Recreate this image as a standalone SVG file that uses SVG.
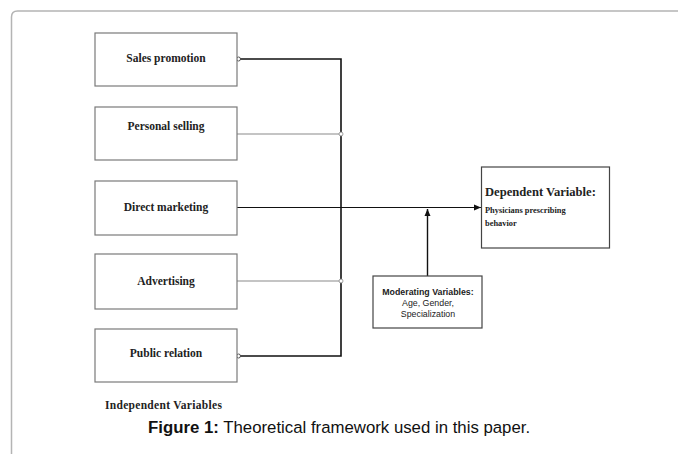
<svg xmlns="http://www.w3.org/2000/svg" width="678" height="454" viewBox="0 0 678 454">
<style>
.frame{fill:none;stroke:#b4b4b4;stroke-width:1.5}
.ibox{fill:#fff;stroke:#7a7a7a;stroke-width:1.2}
.dbox{fill:#fff;stroke:#444;stroke-width:1.2}
.lbl{font-family:"Liberation Serif","Times New Roman",serif;font-weight:bold;font-size:11.5px;fill:#222;text-anchor:middle}
.sans{font-family:"Liberation Sans",Arial,sans-serif;font-size:8.8px;fill:#222;text-anchor:middle}
.thick{stroke:#111;stroke-width:1.6;fill:none}
.thin{stroke:#111;stroke-width:1;fill:none}
.gray{stroke:#8a8a8a;stroke-width:1.2;fill:none}
.dot{fill:#fff;stroke:#333;stroke-width:0.8}
.gdot{fill:#fff;stroke:#888;stroke-width:0.8}
</style>
<defs>
<marker id="ah" markerWidth="8" markerHeight="8" refX="7" refY="4" orient="auto" markerUnits="userSpaceOnUse">
<path d="M0,1 L7,4 L0,7 Z" fill="#111"/>
</marker>
</defs>
<rect width="678" height="454" fill="#fff"/>
<path class="frame" d="M11.5,454 L11.5,17 Q11.5,11 17.5,11 L678,11"/>

<g id="connectors">
<path class="thick" d="M237,59 L341,59 L341,356 L237,356"/>
<path class="gray" d="M237,134 L341,134"/>
<path class="gray" d="M237,281 L341,281"/>
<path class="thin" d="M237,207.5 L481,207.5" marker-end="url(#ah)"/>
<path class="thick" d="M427.5,276 L427.5,209" marker-end="url(#ah)" style="stroke-width:1.4"/>
<circle class="dot" cx="238.5" cy="59" r="2"/>
<circle class="dot" cx="238.5" cy="356" r="2"/>
<circle class="gdot" cx="341" cy="134" r="2"/>
<circle class="gdot" cx="341" cy="281" r="2"/>
</g>

<g id="sales">
<rect class="ibox" x="95" y="33" width="142" height="53"/>
<text class="lbl" x="166" y="62">Sales promotion</text>
</g>
<g id="personal">
<rect class="ibox" x="95" y="107" width="142" height="53"/>
<text class="lbl" x="166" y="130">Personal selling</text>
</g>
<g id="direct">
<rect class="ibox" x="95" y="181" width="142" height="54"/>
<text class="lbl" x="166" y="211">Direct marketing</text>
</g>
<g id="advertising">
<rect class="ibox" x="95" y="254" width="142" height="55"/>
<text class="lbl" x="166" y="285">Advertising</text>
</g>
<g id="public">
<rect class="ibox" x="95" y="329" width="142" height="53"/>
<text class="lbl" x="166" y="357">Public relation</text>
</g>

<g id="dependent">
<rect class="dbox" x="481.5" y="167" width="128" height="81"/>
<text x="485" y="196" style="font-family:'Liberation Serif','Times New Roman',serif;font-weight:bold;font-size:12.6px;fill:#222">Dependent Variable:</text>
<text x="485" y="213" style="font-family:'Liberation Serif','Times New Roman',serif;font-weight:bold;font-size:8.4px;fill:#222">Physicians prescribing</text>
<text x="485" y="226" style="font-family:'Liberation Serif','Times New Roman',serif;font-weight:bold;font-size:8.4px;fill:#222">behavior</text>
</g>

<g id="moderating">
<rect class="dbox" x="373" y="276" width="109" height="52"/>
<text class="sans" x="428" y="295" font-weight="bold">Moderating Variables:</text>
<text class="sans" x="428" y="306">Age, Gender,</text>
<text class="sans" x="428" y="317">Specialization</text>
</g>

<text x="105" y="409" style="font-family:'Liberation Serif','Times New Roman',serif;font-weight:bold;font-size:11.5px;fill:#222;letter-spacing:0.3px">Independent Variables</text>
<text x="148" y="433" style="font-family:'Liberation Sans',Arial,sans-serif;font-size:16.8px;fill:#111"><tspan font-weight="bold">Figure 1:</tspan> Theoretical framework used in this paper.</text>
</svg>
